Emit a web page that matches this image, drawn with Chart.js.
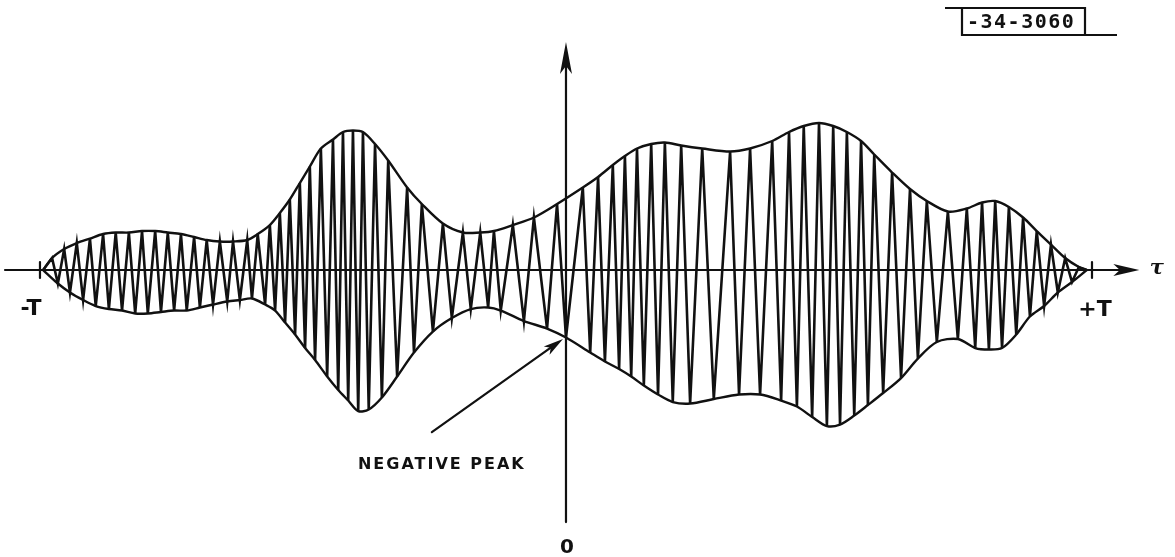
<!DOCTYPE html>
<html>
<head>
<meta charset="utf-8">
<script src="https://cdn.jsdelivr.net/npm/chart.js@4.4.1/dist/chart.umd.min.js"></script>
<style>
    html, body { margin: 0; padding: 0; background: #fff; }
    #wrap { width: 1175px; height: 557px; position: relative; }
</style>
</head>
<body>
<div id="wrap"><canvas id="corrChart"></canvas></div>
<script>
// lag of each turning point of the trace, in percent of T (-100 = -T, +100 = +T)
var tau = [
    -99.4, -97.7, -96.6, -95.4, -94.3, -93.0, -91.8, -90.5, -89.4, -88.0,
    -86.9, -85.6, -84.4, -83.1, -81.9, -80.6, -79.5, -78.1, -77.0, -75.7,
    -74.5, -73.2, -72.1, -70.7, -69.6, -68.3, -67.1, -65.8, -64.4, -63.3,
    -62.0, -60.6, -59.7, -58.6, -57.2, -56.3, -55.3, -54.4, -53.4, -52.5,
    -51.5, -50.6, -49.6, -48.7, -47.7, -46.6, -45.4, -44.3, -43.3, -42.4,
    -41.4, -40.5, -39.5, -38.6, -37.5, -36.3, -35.0, -33.8, -32.1, -30.2,
    -28.9, -27.4, -25.3, -23.4, -21.7, -19.6, -18.1, -16.3, -14.8, -13.7,
    -12.4, -10.1, -8.0, -6.1, -3.6, -1.7, 0,
    3.2, 4.6, 6.1, 7.4, 8.9, 10.1, 11.2, 12.4, 13.5, 14.8,
    16.2, 17.5, 18.8, 20.3, 21.9, 23.6, 25.9, 28.1, 31.2, 32.9,
    35.0, 36.9, 39.2, 40.9, 42.4, 43.9, 45.2, 46.8, 48.1, 49.6,
    50.8, 52.1, 53.4, 54.8, 56.1, 57.4, 58.6, 60.3, 62.0, 63.7,
    65.4, 66.9, 68.6, 70.5, 72.6, 74.5, 76.2, 77.8, 79.1, 80.4,
    81.6, 82.9, 84.2, 85.6, 86.9, 88.2, 89.5, 90.9, 92.2, 93.5,
    94.9, 96.2, 97.5, 99.0
];

// signed amplitude at each turning point
var amp = [
    0, 8, -9, 14, -15, 18, -20, 21, -24, 24,
    -26, 25, -27, 25, -29, 26, -29, 26, -28, 25,
    -27, 24, -27, 22, -25, 20, -23, 19, -21, 19,
    -20, 20, -19, 24, -23, 30, -27, 38, -35, 47,
    -43, 58, -52, 69, -60, 81, -71, 87, -80, 92,
    -87, 93, -94, 92, -93, 84, -85, 73, -71, 55,
    -55, 44, -41, 31, -32, 25, -26, 25, -25, 26,
    -27, 30, -34, 35, -39, 44, -45,
    55, -55, 62, -61, 70, -66, 76, -71, 81, -77,
    84, -83, 85, -88, 83, -89, 81, -86, 79, -83,
    81, -83, 86, -87, 92, -91, 96, -98, 98, -104,
    96, -103, 92, -97, 86, -90, 77, -82, 65, -72,
    54, -59, 46, -48, 39, -46, 41, -52, 45, -53,
    46, -52, 42, -43, 35, -31, 26, -24, 17, -15,
    8, -8, 2, 0
];

var endLabels = ['-T', '+T'];
var endTaus = [-100, 100];
var peakNote = 'NEGATIVE PEAK';
var drawingNo = '-34-3060';

var trace = tau.map(function (t, i) {
    return { x: t, y: amp[i] };
});
var upperEnv = trace.filter(function (p) { return p.y >= 0; });
var lowerEnv = trace.filter(function (p) { return p.y <= 0; });

var INK = '#111';

function arrowHead(ctx, tipX, tipY, ang, len, half) {
    var c = Math.cos(ang), s = Math.sin(ang);
    ctx.beginPath();
    ctx.moveTo(tipX, tipY);
    ctx.lineTo(tipX - len * c + half * s, tipY - len * s - half * c);
    ctx.lineTo(tipX - len * 0.75 * c, tipY - len * 0.75 * s);
    ctx.lineTo(tipX - len * c - half * s, tipY - len * s + half * c);
    ctx.closePath();
    ctx.fill();
}

var axesPlugin = {
    id: 'sketchAxes',
    afterDatasetsDraw: function (chart) {
        var ctx = chart.ctx;
        var xs = chart.scales.x;
        var ys = chart.scales.y;
        var x0 = xs.getPixelForValue(0);
        var y0 = ys.getPixelForValue(0);
        var xEnd = xs.getPixelForValue(109);
        var yTop = ys.getPixelForValue(152);
        var yBot = ys.getPixelForValue(-168);

        ctx.save();
        ctx.strokeStyle = INK;
        ctx.fillStyle = INK;
        ctx.lineWidth = 2.2;
        ctx.lineCap = 'round';

        // tau axis
        ctx.beginPath();
        ctx.moveTo(5, y0);
        ctx.lineTo(xEnd - 14, y0);
        ctx.stroke();
        arrowHead(ctx, xEnd, y0, 0, 26, 6);

        // vertical axis at zero lag
        ctx.beginPath();
        ctx.moveTo(x0, yTop + 14);
        ctx.lineTo(x0, yBot);
        ctx.stroke();
        arrowHead(ctx, x0, yTop, -Math.PI / 2, 32, 6);

        // ticks at -T and +T
        endTaus.forEach(function (t) {
            var px = xs.getPixelForValue(t);
            ctx.beginPath();
            ctx.moveTo(px, y0 - 8);
            ctx.lineTo(px, y0 + 8);
            ctx.stroke();
        });

        ctx.font = 'bold 22px "DejaVu Sans"';
        ctx.textAlign = 'center';
        ctx.textBaseline = 'middle';
        ctx.fillText(endLabels[0], xs.getPixelForValue(endTaus[0]) - 9, y0 + 39);
        ctx.fillText(endLabels[1], xs.getPixelForValue(endTaus[1]) + 3, y0 + 40);

        ctx.font = 'italic bold 21px "DejaVu Serif"';
        ctx.fillText('\u03c4', xs.getPixelForValue(112.3), y0 - 1);

        ctx.font = 'bold 20px "DejaVu Sans"';
        ctx.fillText('0', x0 + 1, ys.getPixelForValue(-185));

        // pointer to the negative peak
        var tipX = x0 - 3;
        var tipY = ys.getPixelForValue(-46);
        var tailX = xs.getPixelForValue(-25.5);
        var tailY = ys.getPixelForValue(-108);
        var ang = Math.atan2(tipY - tailY, tipX - tailX);
        ctx.beginPath();
        ctx.moveTo(tailX, tailY);
        ctx.lineTo(tipX - 12 * Math.cos(ang), tipY - 12 * Math.sin(ang));
        ctx.stroke();
        arrowHead(ctx, tipX, tipY, ang, 20, 5);

        ctx.font = 'bold 16px "DejaVu Sans"';
        ctx.letterSpacing = '2px';
        ctx.fillText(peakNote, xs.getPixelForValue(-23.6), ys.getPixelForValue(-130));

        // drawing number box, top right
        ctx.letterSpacing = '1.5px';
        ctx.font = 'bold 20px "DejaVu Sans Mono"';
        ctx.textAlign = 'left';
        ctx.fillText(drawingNo, 967, 23);
        ctx.letterSpacing = '0px';
        ctx.lineWidth = 2.2;
        ctx.lineCap = 'butt';
        ctx.beginPath();
        ctx.moveTo(945, 8);
        ctx.lineTo(1085, 8);
        ctx.lineTo(1085, 35);
        ctx.lineTo(962, 35);
        ctx.lineTo(962, 8);
        ctx.moveTo(1085, 35);
        ctx.lineTo(1117, 35);
        ctx.stroke();
        ctx.restore();
    }
};

new Chart(document.getElementById('corrChart'), {
    type: 'scatter',
    data: {
        datasets: [
            {
                data: trace,
                showLine: true,
                borderColor: INK,
                borderWidth: 2.6,
                pointRadius: 0,
                tension: 0
            },
            {
                data: upperEnv,
                showLine: true,
                borderColor: INK,
                borderWidth: 2.4,
                pointRadius: 0,
                tension: 0.3
            },
            {
                data: lowerEnv,
                showLine: true,
                borderColor: INK,
                borderWidth: 2.4,
                pointRadius: 0,
                tension: 0.3
            }
        ]
    },
    options: {
        responsive: true,
        maintainAspectRatio: false,
        animation: false,
        layout: { padding: 0 },
        scales: {
            x: { type: 'linear', min: -107.6, max: 115.78, display: false },
            y: { type: 'linear', min: -191.3, max: 180, display: false }
        },
        plugins: {
            legend: { display: false },
            tooltip: { enabled: false }
        }
    },
    plugins: [axesPlugin]
});
</script>
</body>
</html>
